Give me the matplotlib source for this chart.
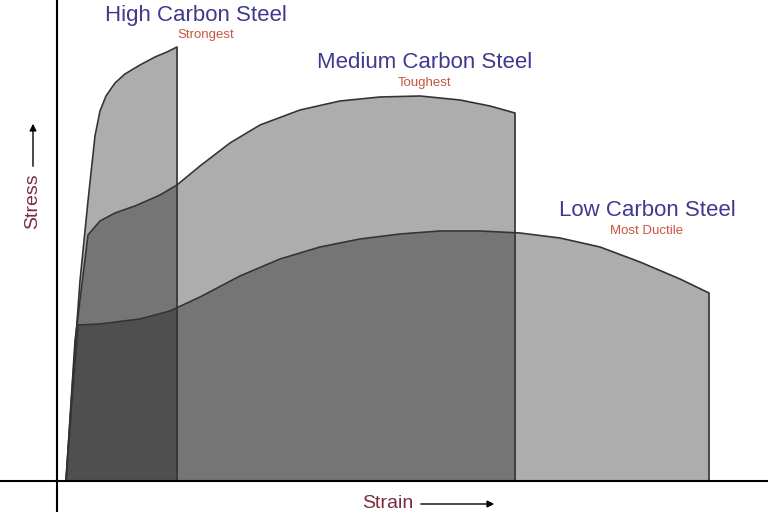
import matplotlib.pyplot as plt
import numpy as np

plt.rcParams['font.family'] = ['Liberation Sans', 'DejaVu Sans']

# curves (strain, stress) in pixel-like units
high_x = [66, 72, 80, 88, 95, 100, 106, 115, 125, 140, 155, 167, 177]
high_y = [0, 90, 200, 280, 345, 370, 385, 398, 407, 416, 424, 429, 434]
med_x = [66, 75, 88, 100, 115, 135, 160, 177, 200, 230, 260, 300, 340, 380, 420, 460, 490, 515]
med_y = [0, 140, 246, 260, 268, 275, 286, 296, 315, 338, 356, 371, 380, 384, 385, 381, 375, 368]
low_x = [66, 72, 78, 100, 140, 170, 200, 240, 280, 320, 360, 400, 440, 480, 520, 560, 600, 640, 680, 709]
low_y = [0, 80, 156, 157, 162, 170, 184, 205, 222, 234, 242, 247, 250, 250, 248, 243, 234, 219, 202, 188]

fig = plt.figure(figsize=(7.68, 5.12), dpi=100)
ax = fig.add_axes([0, 0, 1, 1])
ax.set_xlim(0, 768)
ax.set_ylim(-31, 481)
ax.axis("off")

for xs, ys in [(high_x, high_y), (med_x, med_y), (low_x, low_y)]:
    xs = xs + [xs[-1]]
    ys = ys + [0]
    ax.fill_between(xs, ys, 0, color="black", alpha=0.32, lw=0)
    ax.plot(xs, ys, color="#333333", lw=1.2)

ax.axvline(57, color="black", lw=1.5)
ax.axhline(0, color="black", lw=1.5)

blue = "#3f3a90"
red = "#c8553d"
ax.text(196, 466, "High Carbon Steel", color=blue, fontsize=16, ha="center", va="center")
ax.text(206, 446, "Strongest", color=red, fontsize=9.5, ha="center", va="center")
ax.text(425, 419, "Medium Carbon Steel", color=blue, fontsize=16, ha="center", va="center")
ax.text(425, 398, "Toughest", color=red, fontsize=9.5, ha="center", va="center")
ax.text(647, 271, "Low Carbon Steel", color=blue, fontsize=16, ha="center", va="center")
ax.text(647, 250, "Most Ductile", color=red, fontsize=9.5, ha="center", va="center")

maroon = "#7a2d40"
ax.text(33, 280, "Stress", color=maroon, fontsize=14, rotation=90, ha="center", va="center")
ax.annotate("", xy=(33, 360), xytext=(33, 312),
            arrowprops=dict(arrowstyle="-|>", color="black", lw=1))
ax.text(388, -22, "Strain", color=maroon, fontsize=14, ha="center", va="center")
ax.annotate("", xy=(497, -23), xytext=(418, -23),
            arrowprops=dict(arrowstyle="-|>", color="black", lw=1))

fig.savefig("out.png", dpi=100)
